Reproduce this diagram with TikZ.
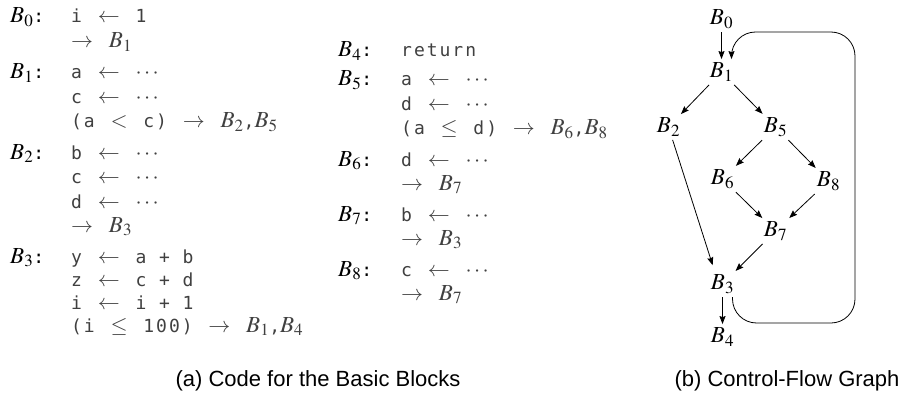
\documentclass[tikz,border=0pt]{standalone}
\usepackage[no-math]{fontspec}
\usepackage{mathptmx}
\usetikzlibrary{arrows.meta}
\newfontfamily\codefont[LetterSpace=11]{DejaVu Sans Mono}
\newfontfamily\capfont{Liberation Sans}
\newcommand{\codesize}{\fontsize{18}{25}\selectfont\spaceskip 12.75pt\relax}
\newcommand{\mth}[1]{{\fontsize{22}{25}\selectfont$#1$}}
\newcommand{\blk}[1]{{\fontsize{23}{25}\selectfont$B_{#1}$}}
\newcommand{\codeop}[1]{\ \hspace{3pt}\mth{#1}\hspace{3pt}\ }
\newcommand{\asgn}{\codeop{\leftarrow}}
\newcommand{\goesto}[1]{\mth{\rightarrow}\hspace{3pt}\ #1}

\begin{document}
\begin{tikzpicture}[x=1pt,y=-1pt,>={Stealth[length=8pt,width=6pt,inset=1pt]},
  code/.style={anchor=base west,inner sep=0pt,text=black!75,font=\codefont\codesize},
  lbl/.style={code,text=black},
  blk/.style={inner sep=3.5pt,font=\fontsize{23}{25}\selectfont},
  flow/.style={->,line width=0.8pt},
  captext/.style={anchor=base,inner sep=0pt,font=\capfont\fontsize{22}{26}\selectfont}]
\useasboundingbox (0,0) rectangle (907,393);
% (a) code for the basic blocks, left column
\node[lbl] (lab0) at (10,23) {\blk{0}:};
\node[code] (c0a) at (71,23) {i\asgn 1};
\node[code] (c0b) at (71,48) {\goesto{\blk{1}}};
\node[lbl] (lab1) at (10,79) {\blk{1}:};
\node[code] (c1a) at (71,79) {a\asgn\mth{\cdots}};
\node[code] (c1b) at (71,103.5) {c\asgn\mth{\cdots}};
\node[code] (c1c) at (71,128) {(a\codeop{<}c)\codeop{\rightarrow}\blk{2},\blk{5}};
\node[lbl] (lab2) at (10,159) {\blk{2}:};
\node[code] (c2a) at (71,159) {b\asgn\mth{\cdots}};
\node[code] (c2b) at (71,183.5) {c\asgn\mth{\cdots}};
\node[code] (c2c) at (71,208) {d\asgn\mth{\cdots}};
\node[code] (c2d) at (71,232.5) {\goesto{\blk{3}}};
\node[lbl] (lab3) at (10,263) {\blk{3}:};
\node[code] (c3a) at (71,263) {y\asgn a + b};
\node[code] (c3b) at (71,286) {z\asgn c + d};
\node[code] (c3c) at (71,309) {i\asgn i + 1};
\node[code] (c3d) at (71,332) {(i\codeop{\leq}100)\codeop{\rightarrow}\blk{1},\blk{4}};
% middle column
\node[lbl] (lab4) at (338,57) {\blk{4}:};
\node[code] (c4a) at (401,57) {return};
\node[lbl] (lab5) at (338,86) {\blk{5}:};
\node[code] (c5a) at (401,86) {a\asgn\mth{\cdots}};
\node[code] (c5b) at (401,110.5) {d\asgn\mth{\cdots}};
\node[code] (c5c) at (401,135) {(a\codeop{\leq}d)\codeop{\rightarrow}\blk{6},\blk{8}};
\node[lbl] (lab6) at (338,166) {\blk{6}:};
\node[code] (c6a) at (401,166) {d\asgn\mth{\cdots}};
\node[code] (c6b) at (401,190.5) {\goesto{\blk{7}}};
\node[lbl] (lab7) at (338,221) {\blk{7}:};
\node[code] (c7a) at (401,221) {b\asgn\mth{\cdots}};
\node[code] (c7b) at (401,245.5) {\goesto{\blk{3}}};
\node[lbl] (lab8) at (338,276) {\blk{8}:};
\node[code] (c8a) at (401,276) {c\asgn\mth{\cdots}};
\node[code] (c8b) at (401,300.5) {\goesto{\blk{7}}};
% (b) control-flow graph
\node[blk] (n0) at (721.5,19) {$B_0$};
\node[blk] (n1) at (721.5,72) {$B_1$};
\node[blk] (n2) at (668.5,127) {$B_2$};
\node[blk] (n5) at (775.5,127) {$B_5$};
\node[blk] (n6) at (722.5,179) {$B_6$};
\node[blk] (n8) at (828.5,181) {$B_8$};
\node[blk] (n7) at (775.5,231) {$B_7$};
\node[blk] (n3) at (722.5,284) {$B_3$};
\node[blk] (n4) at (722.5,337) {$B_4$};
\coordinate (loopbr) at (855,323);
\coordinate (looptr) at (855,32);
\draw[flow] (n0) -- (n1);
\draw[flow] (n1) -- (n2);
\draw[flow] (n1) -- (n5);
\draw[flow] (n5) -- (n6);
\draw[flow] (n5) -- (n8);
\draw[flow] (n6) -- (n7);
\draw[flow] (n8) -- (n7);
\draw[flow] (n7) -- (n3);
\draw[flow,shorten >=6pt] (n2) -- ([xshift=-8pt]n3.north);
\draw[flow] (n3) -- (n4);
\draw[flow,rounded corners=24pt] ([xshift=10pt]n3.south) |- (loopbr) -- (looptr) -| ([xshift=10pt]n1.north);
% captions
\node[captext] (capa) at (318,386) {(a) Code for the Basic Blocks};
\node[captext] (capb) at (787,386) {(b) Control-Flow Graph};
\end{tikzpicture}
\end{document}
